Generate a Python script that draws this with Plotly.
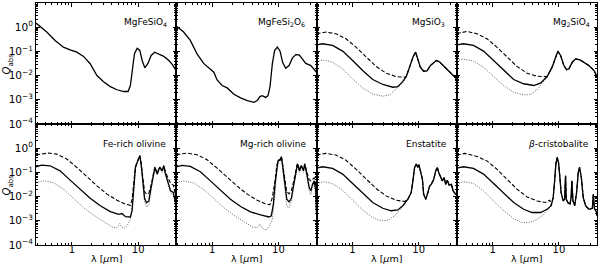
import plotly.graph_objects as go
from plotly.subplots import make_subplots

# ---------------- data (lambda in micron, Q_abs) ----------------
# MgFeSiO4
lam_mgfesio4 = [0.288, 0.418, 0.558, 0.746, 0.942, 1.19, 1.50, 1.89, 2.39, 3.01, 3.80, 4.80, 6.05, 7.05,
                7.64, 8.20, 8.79, 9.66, 10.6, 11.5, 12.6, 14.0, 15.7, 17.7, 20.5, 24.4, 29.1, 32.7, 37.6]
q_mgfesio4 = [1.48, 0.63, 0.284, 0.150, 0.116, 0.093, 0.062, 0.031, 0.010, 0.0056, 0.0035, 0.0026, 0.0022, 0.0022,
              0.0039, 0.022, 0.079, 0.136, 0.11, 0.042, 0.021, 0.031, 0.068, 0.093, 0.079, 0.062, 0.042, 0.029, 0.016]

# MgFeSi2O6
lam_mgfesi2o6 = [0.294, 0.372, 0.469, 0.592, 0.746, 0.942, 1.06, 1.19, 1.42, 1.69, 2.13, 2.69, 3.39, 4.28, 4.80,
                 5.27, 5.71, 6.43, 6.97, 7.46, 8.11, 8.79, 9.66, 10.6, 11.6, 12.9, 14.5, 16.3, 18.3, 20.6,
                 23.1, 25.9, 30.9, 37.6]
q_mgfesi2o6 = [1.08, 0.63, 0.284, 0.079, 0.032, 0.019, 0.0138, 0.0066, 0.0039, 0.0031, 0.0017, 0.0012, 0.00093,
               0.00079, 0.00093, 0.00135, 0.00148, 0.00126, 0.00148, 0.0033, 0.031, 0.11, 0.150, 0.102, 0.035,
               0.020, 0.026, 0.054, 0.074, 0.072, 0.045, 0.032, 0.026, 0.0138]

# MgSiO3
lam_mgsio3_solid = [0.288, 0.355, 0.503, 0.713, 1.01, 1.43, 2.03, 2.88, 4.07, 4.85, 5.78, 6.50, 7.30, 8.20, 9.0,
                    9.64, 10.6, 11.9, 13.4, 15.0, 16.9, 18.5, 20.8, 23.3, 26.9, 32.0, 37.6]
q_mgsio3_solid = [0.1875, 0.2065, 0.176, 0.1026, 0.042, 0.0162, 0.0069, 0.0043, 0.0033, 0.0035, 0.0058, 0.0091,
                  0.0224, 0.0575, 0.093, 0.054, 0.0224, 0.0151, 0.0158, 0.026, 0.036, 0.042, 0.036, 0.026,
                  0.0178, 0.011, 0.0072]
lam_mgsio3_dash = [0.288, 0.398, 0.565, 0.80, 1.135, 1.61, 2.28, 3.23, 4.57, 6.12]
q_mgsio3_dash = [0.537, 0.63, 0.537, 0.333, 0.150, 0.0575, 0.024, 0.0126, 0.0091, 0.0085]
lam_mgsio3_dot = [0.288, 0.355, 0.503, 0.713, 1.01, 1.43, 2.03, 2.88, 3.63, 4.58, 5.33, 5.78]
q_mgsio3_dot = [0.0359, 0.0447, 0.0359, 0.019, 0.0072, 0.0031, 0.00174, 0.0014, 0.0016, 0.0028, 0.0039, 0.0050]

# Mg2SiO4
lam_mg2sio4_solid = [0.288, 0.363, 0.515, 0.730, 1.035, 1.47, 2.08, 2.94, 4.18, 5.27, 6.65, 7.91, 8.89, 9.64, 10.6,
                     11.9, 13.1, 14.2, 15.9, 17.9, 20.8, 23.9, 28.4, 33.9, 37.6]
q_mg2sio4_solid = [0.1875, 0.2065, 0.176, 0.1026, 0.042, 0.0162, 0.0069, 0.0046, 0.0039, 0.0049, 0.0091, 0.0224,
                   0.0575, 0.102, 0.068, 0.026, 0.0174, 0.019, 0.0359, 0.049, 0.0447, 0.0359, 0.026, 0.0162, 0.0091]
lam_mg2sio4_dash = [0.288, 0.408, 0.578, 0.82, 1.16, 1.65, 2.33, 3.31, 4.69, 6.27]
q_mg2sio4_dash = [0.537, 0.67, 0.537, 0.333, 0.150, 0.0575, 0.024, 0.0126, 0.0094, 0.0091]
lam_mg2sio4_dot = [0.288, 0.363, 0.515, 0.730, 1.035, 1.47, 2.08, 2.94, 3.72, 4.69, 5.92]
q_mg2sio4_dot = [0.042, 0.048, 0.040, 0.0224, 0.0091, 0.0039, 0.00204, 0.0016, 0.00165, 0.0026, 0.0059]

# Fe-rich olivine
lam_feol_solid = [0.288, 0.351, 0.469, 0.665, 0.942, 1.34, 1.89, 2.69, 3.80, 5.08, 5.71, 6.43, 7.64, 8.11, 8.59,
                  9.10, 9.66, 10.2, 10.6, 11.1, 11.7, 12.5, 13.4, 14.5, 15.7, 16.9, 17.9, 19.4, 21.0, 23.1,
                  24.4, 25.9, 28.1, 30.9, 33.9, 35.9, 37.6]
q_feol_solid = [0.171, 0.20, 0.1875, 0.116, 0.048, 0.0204, 0.0085, 0.0042, 0.0024, 0.00186, 0.0020, 0.00148,
                0.00144, 0.0026, 0.024, 0.16, 0.257, 0.355, 0.49, 0.22, 0.045, 0.0085, 0.0056, 0.0066, 0.024,
                0.085, 0.16, 0.085, 0.16, 0.116, 0.1875, 0.085, 0.045, 0.0174, 0.0148, 0.0066, 0.0042]
lam_feol_dash = [0.288, 0.443, 0.592, 0.84, 1.19, 1.69, 2.39, 3.39, 4.80, 6.43, 7.64, 8.11, 8.59, 9.10, 9.66,
                 10.2, 10.6, 11.1, 11.7, 12.5, 13.4, 14.5, 15.7, 16.9, 17.9, 19.4, 21.0, 23.1, 24.4, 25.9,
                 28.1, 30.9, 33.9, 35.9, 37.6]
q_feol_dash = [0.535, 0.63, 0.571, 0.355, 0.16, 0.066, 0.0279, 0.0126, 0.0071, 0.0049, 0.0044, 0.0078, 0.03,
               0.17, 0.27, 0.37, 0.5, 0.24, 0.06, 0.016, 0.0126, 0.014, 0.03, 0.09, 0.17, 0.09, 0.17, 0.12,
               0.19, 0.1, 0.06, 0.035, 0.03, 0.014, 0.008]
lam_feol_dot = [0.288, 0.372, 0.527, 0.746, 1.06, 1.50, 2.13, 3.01, 4.03, 4.80, 5.27, 5.65, 6.05, 6.81, 7.64,
                8.40, 9.10, 9.66, 10.2, 10.6, 11.1, 11.7, 12.5, 13.4, 14.5, 15.7, 16.9, 17.9, 19.4, 21.0,
                23.1, 24.4, 25.9, 28.1, 30.9, 33.9, 35.9, 37.6]
q_feol_dot = [0.038, 0.0447, 0.038, 0.0204, 0.0085, 0.0035, 0.0017, 0.00089, 0.00056, 0.00052, 0.00076, 0.00056,
              0.00048, 0.00062, 0.00115, 0.0126, 0.14, 0.24, 0.33, 0.45, 0.2, 0.035, 0.006, 0.0037, 0.0045,
              0.02, 0.08, 0.15, 0.08, 0.15, 0.10, 0.17, 0.075, 0.038, 0.014, 0.012, 0.005, 0.003]

# Mg-rich olivine
lam_mgol_solid = [0.288, 0.351, 0.469, 0.665, 0.942, 1.34, 1.89, 2.69, 3.80, 5.39, 6.05, 7.21, 7.82, 8.40, 8.89,
                  9.42, 9.87, 10.6, 11.1, 11.6, 12.5, 13.4, 14.5, 15.7, 16.9, 18.3, 19.4, 20.8, 22.3, 23.9,
                  25.0, 26.9, 29.1, 30.9, 32.7, 34.7, 36.7, 37.6]
q_mgol_solid = [0.171, 0.194, 0.176, 0.106, 0.0447, 0.0184, 0.0078, 0.0039, 0.00234, 0.00175, 0.0016, 0.00144,
                0.0016, 0.0049, 0.032, 0.16, 0.30, 0.32, 0.44, 0.1875, 0.0279, 0.0078, 0.006, 0.0085, 0.0279,
                0.116, 0.22, 0.116, 0.1875, 0.116, 0.22, 0.085, 0.024, 0.0174, 0.032, 0.0447, 0.0174, 0.0022]
lam_mgol_dash = [0.288, 0.418, 0.592, 0.84, 1.19, 1.69, 2.39, 3.39, 4.80, 6.43, 7.46, 8.11, 8.40, 8.89, 9.42,
                 9.87, 10.6, 11.1, 11.6, 12.5, 13.4, 14.5, 15.7, 16.9, 18.3, 19.4, 20.8, 22.3, 23.9, 25.0,
                 26.9, 29.1, 30.9, 32.7, 34.7, 36.7, 37.6]
q_mgol_dash = [0.535, 0.63, 0.535, 0.333, 0.150, 0.0617, 0.027, 0.0126, 0.0071, 0.0049, 0.0046, 0.0091, 0.015,
               0.045, 0.18, 0.32, 0.34, 0.46, 0.21, 0.045, 0.016, 0.013, 0.018, 0.04, 0.13, 0.24, 0.13, 0.2,
               0.13, 0.23, 0.1, 0.05, 0.045, 0.05, 0.06, 0.03, 0.006]
lam_mgol_dot = [0.288, 0.372, 0.527, 0.746, 1.06, 1.50, 2.13, 3.01, 4.03, 4.80, 5.27, 5.71, 6.43, 7.21, 8.11,
                8.89, 9.42, 9.87, 10.6, 11.1, 11.6, 12.5, 13.4, 14.5, 15.7, 16.9, 18.3, 19.4, 20.8, 22.3,
                23.9, 25.0, 26.9, 29.1, 30.9, 32.7, 34.7, 36.7, 37.6]
q_mgol_dot = [0.038, 0.0447, 0.037, 0.0196, 0.0083, 0.0035, 0.0017, 0.00094, 0.00056, 0.00052, 0.00072, 0.00049,
              0.00041, 0.00056, 0.00115, 0.0126, 0.13, 0.27, 0.30, 0.42, 0.16, 0.018, 0.004, 0.0035, 0.006,
              0.022, 0.1, 0.2, 0.1, 0.17, 0.1, 0.2, 0.07, 0.018, 0.012, 0.025, 0.035, 0.01, 0.0015]

# Enstatite
lam_enst_solid = [0.288, 0.355, 0.503, 0.713, 1.01, 1.43, 2.03, 2.88, 3.85, 4.85, 5.78, 6.88, 7.73, 8.20, 8.69,
                  9.2, 9.77, 10.1, 10.7, 11.4, 11.9, 12.8, 13.8, 14.7, 15.5, 16.9, 18.1, 19.1, 20.3, 21.5,
                  22.8, 24.2, 25.6, 27.1, 28.8, 31.2, 33.1, 35.9, 37.6]
q_enst_solid = [0.150, 0.171, 0.146, 0.085, 0.0347, 0.0135, 0.0057, 0.0033, 0.0026, 0.0028, 0.0042, 0.0078,
                0.0148, 0.0447, 0.16, 0.22, 0.16, 0.207, 0.1, 0.052, 0.0126, 0.0078, 0.0148, 0.0279, 0.032,
                0.052, 0.116, 0.16, 0.091, 0.062, 0.0447, 0.062, 0.032, 0.048, 0.0296, 0.032, 0.0174, 0.0126,
                0.0148]
lam_enst_dash = [0.288, 0.398, 0.565, 0.80, 1.135, 1.61, 2.28, 3.23, 4.57, 6.12]
q_enst_dash = [0.52, 0.61, 0.52, 0.32, 0.136, 0.052, 0.0216, 0.0107, 0.0071, 0.0063]
lam_enst_dot = [0.288, 0.37, 0.503, 0.713, 1.01, 1.43, 2.03, 2.72, 3.43, 4.33, 5.46]
q_enst_dot = [0.0347, 0.041, 0.0347, 0.0184, 0.0071, 0.0028, 0.00135, 0.001, 0.00105, 0.0016, 0.0033]

# beta-cristobalite
lam_cris_solid = [0.288, 0.363, 0.515, 0.730, 1.035, 1.47, 2.08, 2.94, 3.94, 5.27, 6.65, 7.64, 8.20, 8.59, 9.0,
                  9.44, 9.87, 10.3, 10.8, 11.6, 12.2, 12.6, 12.9, 13.7, 14.7, 15.3, 15.7, 16.3, 17.3, 18.5,
                  19.6, 20.5, 21.8, 23.3, 25.3, 28.4, 32.0, 33.1, 34.3, 37.2, 37.6]
q_cris_solid = [0.150, 0.171, 0.146, 0.085, 0.0347, 0.0135, 0.0057, 0.003, 0.0022, 0.0022, 0.003, 0.0042,
                0.0091, 0.038, 0.22, 0.417, 0.257, 0.072, 0.0148, 0.0066, 0.0078, 0.072, 0.0078, 0.0056,
                0.0049, 0.0091, 0.0447, 0.0066, 0.0042, 0.0148, 0.1, 0.16, 0.062, 0.0091, 0.0042, 0.003,
                0.0033, 0.0126, 0.0033, 0.0022, 0.0016]
lam_cris_dash = [0.288, 0.38, 0.578, 0.82, 1.16, 1.65, 2.33, 3.31, 4.69, 6.27, 7.3]
q_cris_dash = [0.52, 0.61, 0.457, 0.30, 0.136, 0.052, 0.0204, 0.0097, 0.0066, 0.0057, 0.0071]
lam_cris_dot = [0.288, 0.38, 0.515, 0.730, 1.035, 1.47, 2.08, 2.78, 3.51, 4.43, 5.58, 6.65]
q_cris_dot = [0.0347, 0.041, 0.0347, 0.0174, 0.0066, 0.0026, 0.00123, 0.00085, 0.00085, 0.00105, 0.0016, 0.0026]

panel_names = ["MgFeSiO<sub>4</sub>", "MgFeSi<sub>2</sub>O<sub>6</sub>", "MgSiO<sub>3</sub>",
               "Mg<sub>2</sub>SiO<sub>4</sub>", "Fe-rich olivine", "Mg-rich olivine", "Enstatite",
               "<i>β</i>-cristobalite"]
y_tick_vals = [1e-4, 1e-3, 1e-2, 1e-1, 1e0]
y_tick_text = ["10<sup>−4</sup>", "10<sup>−3</sup>", "10<sup>−2</sup>", "10<sup>−1</sup>", "10<sup>0</sup>"]
x_tick_vals = [1, 10]
x_tick_text = ["1", "10"]


def tail(lam_head, lam_s, q_s):
    """solid-curve points beyond the end of a head segment (curves coincide there)"""
    lm = [l for l in lam_s if l > lam_head[-1]]
    qm = [q for l, q in zip(lam_s, q_s) if l > lam_head[-1]]
    return lm, qm


# ---------------- figure ----------------
fig = make_subplots(rows=2, cols=4, horizontal_spacing=0, vertical_spacing=0)

sty_solid = dict(color="black", width=1.3)
sty_dash = dict(color="black", width=1.1, dash="4px,2px")
sty_dot = dict(color="#555555", width=0.9, dash="1px,1.4px")


def add(lam, q, row, col, sty):
    fig.add_trace(go.Scatter(x=lam, y=q, mode="lines", line=sty, showlegend=False,
                             hoverinfo="skip"), row=row, col=col)


add(lam_mgfesio4, q_mgfesio4, 1, 1, sty_solid)
add(lam_mgfesi2o6, q_mgfesi2o6, 1, 2, sty_solid)

for (row, col, ls, qs, ld, qd, lt, qt) in [
    (1, 3, lam_mgsio3_solid, q_mgsio3_solid, lam_mgsio3_dash, q_mgsio3_dash, lam_mgsio3_dot, q_mgsio3_dot),
    (1, 4, lam_mg2sio4_solid, q_mg2sio4_solid, lam_mg2sio4_dash, q_mg2sio4_dash, lam_mg2sio4_dot, q_mg2sio4_dot),
    (2, 3, lam_enst_solid, q_enst_solid, lam_enst_dash, q_enst_dash, lam_enst_dot, q_enst_dot),
    (2, 4, lam_cris_solid, q_cris_solid, lam_cris_dash, q_cris_dash, lam_cris_dot, q_cris_dot),
]:
    tl, tq = tail(lt, ls, qs)
    add(lt + tl, qt + tq, row, col, sty_dot)
    tl, tq = tail(ld, ls, qs)
    add(ld + tl, qd + tq, row, col, sty_dash)
    add(ls, qs, row, col, sty_solid)

add(lam_feol_dot, q_feol_dot, 2, 1, sty_dot)
add(lam_feol_dash, q_feol_dash, 2, 1, sty_dash)
add(lam_feol_solid, q_feol_solid, 2, 1, sty_solid)
add(lam_mgol_dot, q_mgol_dot, 2, 2, sty_dot)
add(lam_mgol_dash, q_mgol_dash, 2, 2, sty_dash)
add(lam_mgol_solid, q_mgol_solid, 2, 2, sty_solid)

x_minor = [0.3, 0.4, 0.5, 0.6, 0.7, 0.8, 0.9, 2, 3, 4, 5, 6, 7, 8, 9, 20, 30]
y_minor = [m * 10 ** e for e in range(-4, 1) for m in range(2, 10)]

font = "DejaVu Sans"
for r in (1, 2):
    for c in (1, 2, 3, 4):
        fig.update_xaxes(type="log", range=[-0.541, 1.575], tickmode="array", tickvals=x_tick_vals,
                         ticktext=x_tick_text, ticks="inside", ticklen=3.5, tickwidth=0.8, tickcolor="black",
                         showline=True, linecolor="black", linewidth=1, mirror="ticks", showgrid=False,
                         zeroline=False, showticklabels=(r == 2), automargin=False, ticklabelstandoff=-5,
                         tickfont=dict(family=font, size=10, color="black"),
                         minor=dict(tickmode="array", tickvals=x_minor, ticks="inside", ticklen=2,
                                    tickwidth=0.6, tickcolor="black", showgrid=False),
                         row=r, col=c)
        fig.update_yaxes(type="log", range=[-4, 1], tickmode="array", tickvals=y_tick_vals,
                         ticktext=y_tick_text, ticks="inside", ticklen=3.5, tickwidth=0.8, tickcolor="black",
                         showline=True, linecolor="black", linewidth=1, mirror="ticks", showgrid=False,
                         zeroline=False, showticklabels=(c == 1), automargin=False,
                         tickfont=dict(family=font, size=10.5, color="black"),
                         minor=dict(tickmode="array", tickvals=y_minor, ticks="inside", ticklen=2,
                                    tickwidth=0.6, tickcolor="black", showgrid=False),
                         row=r, col=c)

label_pos = [0.78, 0.747, 0.80, 0.815, 0.70, 0.693, 0.784, 0.722]
for i, name in enumerate(panel_names):
    k = i + 1
    sfx = "" if k == 1 else str(k)
    fig.add_annotation(text=name, xref=f"x{sfx} domain", yref=f"y{sfx} domain", x=label_pos[i], y=0.835,
                       xanchor="center", yanchor="middle", showarrow=False,
                       font=dict(family=font, size=9, color="black"))

# axis titles
for yc in (0.75, 0.25):
    fig.add_annotation(text="<i>Q</i><sub>abs</sub>", xref="paper", yref="paper", x=-0.05, y=yc,
                       textangle=-90, showarrow=False, xanchor="center", yanchor="middle",
                       font=dict(family=font, size=10, color="black"))
for c in range(4):
    fig.add_annotation(text="λ [<i>μ</i>m]", xref="paper", yref="paper", x=(c + 0.5) / 4, y=0,
                       yshift=-13, showarrow=False, xanchor="center", yanchor="middle",
                       font=dict(family=font, size=9.5, color="black"))

fig.update_layout(width=600, height=266, margin=dict(l=36, r=3, t=3, b=21, autoexpand=False),
                  paper_bgcolor="white", plot_bgcolor="rgba(0,0,0,0)", showlegend=False)

fig.write_html("out.html", config={"displayModeBar": False},
               post_script="document.body.style.margin='0';document.body.style.overflow='hidden';")
